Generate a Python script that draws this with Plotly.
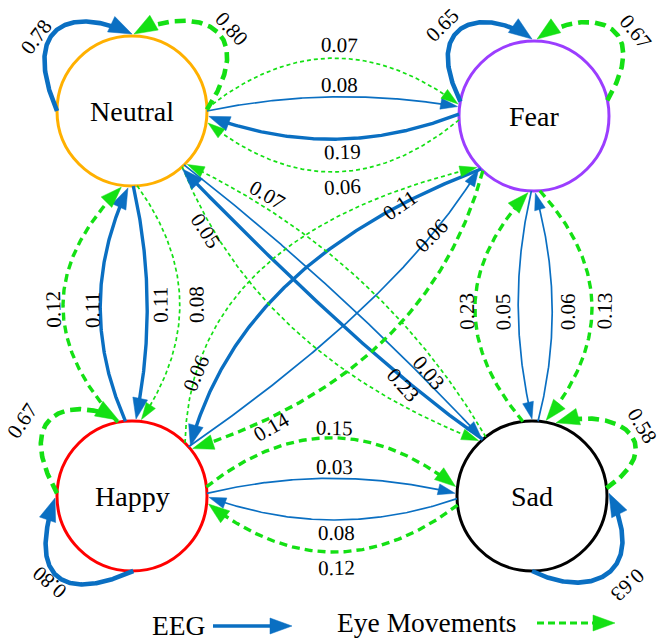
import math
import numpy as np
import plotly.graph_objects as go

# ---------------- data ----------------
STATES = ["Neutral", "Fear", "Happy", "Sad"]
# transition probabilities, row = from-state, column = to-state
EEG_PROB = [
    [0.78, 0.08, 0.11, 0.03],
    [0.19, 0.65, 0.11, 0.05],
    [0.11, 0.06, 0.80, 0.03],
    [0.23, 0.06, 0.08, 0.63],
]
EYE_PROB = [
    [0.80, 0.07, 0.08, 0.05],
    [0.06, 0.67, 0.14, 0.13],
    [0.12, 0.06, 0.67, 0.15],
    [0.07, 0.23, 0.12, 0.58],
]
MODALITIES = ["EEG", "Eye Movements"]
PROBS = {"EEG": EEG_PROB, "Eye Movements": EYE_PROB}

# ---------------- layout / style ----------------
W, H = 661, 641
SERIF = "Liberation Serif, Times New Roman, serif"
R_NODE, R_TIP = 75, 77
NODE_XY = {"Neutral": (132, 111), "Fear": (534, 116), "Happy": (132, 496), "Sad": (532, 496)}
NODE_COLOR = {"Neutral": "#FFB000", "Fear": "#9B3DFF", "Happy": "#FF0000", "Sad": "#000000"}
MOD_COLOR = {"EEG": "#0A6FC2", "Eye Movements": "#14E014"}
LABEL_SIZE, NODE_SIZE, LEGEND_SIZE = 21, 28, 27.5

# (mod, src, dst): start angle, end angle, bend, skew, label t, label offset, label rotation
EDGE_GEOM = {
    ("Eye Movements", "Neutral", "Fear"): (-2, 189, 96, 0, 0.53, 13, None),
    ("EEG", "Neutral", "Fear"): (0, 187, 24, 0, 0.53, 12, None),
    ("EEG", "Fear", "Neutral"): (181.5, 4, 48, 0, 0.47, 13, None),
    ("Eye Movements", "Fear", "Neutral"): (177, 9, 101, 0, 0.47, 15, None),
    ("Eye Movements", "Happy", "Neutral"): (-101, 98, 113, 0, 0.477, 10, None),
    ("EEG", "Happy", "Neutral"): (-95, 93, 53, 0, 0.477, 8, None),
    ("EEG", "Neutral", "Happy"): (89, -87, 25, 0, 0.51, 13, None),
    ("Eye Movements", "Neutral", "Happy"): (86, -83, 81, 0, 0.51, 17, None),
    ("Eye Movements", "Sad", "Fear"): (-97, 94.5, 101, 0, 0.479, 8, None),
    ("EEG", "Fear", "Sad"): (92, -90, -27, 0, 0.53, -15, None),
    ("EEG", "Sad", "Fear"): (-85.4, 89, -31, 0, 0.478, -16, None),
    ("Eye Movements", "Fear", "Sad"): (85.5, -79.4, 98, 0, 0.53, 13, None),
    ("Eye Movements", "Happy", "Sad"): (-7, 187, 98, 0, 0.515, 10, None),
    ("EEG", "Happy", "Sad"): (-2, 182, 30, 0, 0.515, 11, None),
    ("EEG", "Sad", "Happy"): (178, 1, 44, 0, 0.485, 13, None),
    ("Eye Movements", "Sad", "Happy"): (173, 6, 95, 0, 0.485, 16, None),
    ("Eye Movements", "Neutral", "Sad"): (48, 226, -87, -20, 0.17, -7, 57),
    ("EEG", "Neutral", "Sad"): (46, 229, 16, -7, 0.8, 7, 50),
    ("EEG", "Sad", "Neutral"): (229, 49, 18, -60, 0.3, 5, 48),
    ("Eye Movements", "Sad", "Neutral"): (232, 44, -62, -2, 0.8, -12, 30),
    ("Eye Movements", "Fear", "Happy"): (133, -38, 108, -22, 0.83, 9, -30),
    ("Eye Movements", "Happy", "Fear"): (-45, 138, 148, -54, 0.18, 0, -67),
    ("EEG", "Fear", "Happy"): (135, -40.6, -100, 37, 0.18, 0, -35),
    ("EEG", "Happy", "Fear"): (-41, 136, -40, 54, 0.75, 0, -45),
}

# (mod, node): start angle, end angle, ctrl1 (ang, dist), ctrl2 (ang, dist), label (ang, dist), label rotation
LOOP_GEOM = {
    ("EEG", "Neutral"): (180, -90, (-142.5, 141), (-120.3, 123), (-142.4, 121), -53),
    ("Eye Movements", "Neutral"): (-1, -88.5, (-34.4, 161), (-63.4, 118.5), (-39.4, 129), 48),
    ("EEG", "Fear"): (191, -91.5, (-139.9, 149), (-113.8, 121), (-135.3, 129), -45),
    ("Eye Movements", "Fear"): (-12, -87.7, (-38.4, 154.5), (-65.3, 122), (-39.5, 132), 51),
    ("Eye Movements", "Happy"): (182, -100, (-144.8, 149), (-119.4, 116), (-145.7, 133), -56),
    ("EEG", "Happy"): (89, 178.5, (120.8, 121), (140.2, 139), (134, 119.5), -139),
    ("Eye Movements", "Sad"): (-6, -71.8, (-20.3, 147), (-46, 126.6), (-32.5, 131), 59),
    ("EEG", "Sad"): (90, -2, (60.9, 119), (33.8, 142), (43, 130.5), 137),
}

# legend: text x, arrow x0, arrow x1, y
LEGEND_GEOM = {"EEG": (178, 213, 292, 626), "Eye Movements": (426, 537, 615, 623)}


def stroke(mod, v):
    if v >= 0.5:
        w = 4.6
    elif v >= 0.1:
        w = 3.4
    else:
        w = 1.7
    dash = "solid"
    if mod == "Eye Movements":
        dash = "11px,6px" if v >= 0.5 else ("8px,5px" if v >= 0.1 else "4px,3px")
    return w, dash


def head(v):
    if v >= 0.5:
        return 23, 8.5
    if v >= 0.1:
        return 21, 7.5
    return 17, 5.5


def polar(node, ang, rad):
    cx, cy = NODE_XY[node]
    a = math.radians(ang)
    return np.array([cx + rad * math.cos(a), cy + rad * math.sin(a)])


def bez(P, t):
    t = np.atleast_1d(np.asarray(t, float))[:, None]
    pts = [np.asarray(p, float) for p in P]
    while len(pts) > 1:
        pts = [(1 - t) * pts[i] + t * pts[i + 1] for i in range(len(pts) - 1)]
    return pts[0]


def bez_d(P, t):
    n = len(P) - 1
    D = [n * (np.asarray(P[i + 1], float) - np.asarray(P[i], float)) for i in range(n)]
    if len(D) == 1:
        return D[0]
    return bez(D, t)[0]


def norm_rot(a):
    while a > 85:
        a -= 180
    while a <= -95:
        a += 180
    return a


fig = go.Figure()
arrow_x = {m: [] for m in MODALITIES}
arrow_y = {m: [] for m in MODALITIES}
annotations = []


def draw(P, mod, w, dash, L, hw):
    pts = bez(P, np.linspace(0, 1, 200))
    tip = np.asarray(P[-1], float)
    u = tip - np.asarray(P[-2], float)
    u /= np.linalg.norm(u)
    dist = np.linalg.norm(pts - tip, axis=1)
    idx = np.where(dist > 0.6 * L)[0][-1]
    line = np.vstack([pts[: idx + 1], tip - u * 0.6 * L])
    fig.add_trace(go.Scatter(x=line[:, 0], y=line[:, 1], mode="lines",
                             line=dict(color=MOD_COLOR[mod], width=w, dash=dash),
                             hoverinfo="skip"))
    base = tip - u * L
    nrm = np.array([-u[1], u[0]])
    tri = [tip, base + nrm * hw, base - nrm * hw, tip]
    arrow_x[mod] += [p[0] for p in tri] + [None]
    arrow_y[mod] += [p[1] for p in tri] + [None]


def label(x, y, text, rot, size=LABEL_SIZE):
    annotations.append(dict(x=x, y=y, xref="x", yref="y", text=text, showarrow=False,
                            textangle=rot, xanchor="center", yanchor="middle",
                            font=dict(family=SERIF, size=size, color="black")))


# nodes
shapes = []
for s in STATES:
    cx, cy = NODE_XY[s]
    shapes.append(dict(type="circle", xref="x", yref="y", x0=cx - R_NODE, x1=cx + R_NODE,
                       y0=cy - R_NODE, y1=cy + R_NODE, line=dict(color=NODE_COLOR[s], width=3),
                       fillcolor="white", layer="below"))
    label(cx, cy, s, 0, size=NODE_SIZE)

# transitions
for mod in MODALITIES:
    M = PROBS[mod]
    for i, src in enumerate(STATES):
        for j, dst in enumerate(STATES):
            v = M[i][j]
            w, dash = stroke(mod, v)
            L, hw = head(v)
            txt = f"{v:.2f}"
            if i == j:
                sa, ea, c1, c2, lp, lrot = LOOP_GEOM[(mod, src)]
                P = [polar(src, sa, R_NODE), polar(src, *c1), polar(src, *c2), polar(src, ea, R_TIP)]
                draw(P, mod, w, dash, L, hw)
                lx, ly = polar(src, *lp)
                label(lx, ly, txt, lrot)
            else:
                sa, ea, b, sk, lt, lo, lrot = EDGE_GEOM[(mod, src, dst)]
                P0 = polar(src, sa, R_NODE)
                P2 = polar(dst, ea, R_TIP)
                d = (P2 - P0) / np.linalg.norm(P2 - P0)
                n = np.array([d[1], -d[0]])
                C = (P0 + P2) / 2 + n * b + d * sk
                P = [P0, C, P2]
                draw(P, mod, w, dash, L, hw)
                pt = bez(P, lt)[0]
                tg = bez_d(P, lt)
                tg = tg / np.linalg.norm(tg)
                nt = np.array([tg[1], -tg[0]])
                lx, ly = pt + nt * lo
                rot = lrot if lrot is not None else norm_rot(math.degrees(math.atan2(tg[1], tg[0])))
                label(lx, ly, txt, rot)

# legend
for mod in MODALITIES:
    tx, x0, x1, y = LEGEND_GEOM[mod]
    label(tx, y - 1, mod, 0, size=LEGEND_SIZE)
    if mod == "EEG":
        draw([np.array([x0, y]), np.array([x1, y])], mod, 3.4, "solid", 22, 8)
    else:
        draw([np.array([x0, y]), np.array([x1, y])], mod, 3.0, "7px,4px", 22, 8)

for mod in MODALITIES:
    fig.add_trace(go.Scatter(x=arrow_x[mod], y=arrow_y[mod], mode="lines", fill="toself",
                             fillcolor=MOD_COLOR[mod], line=dict(color=MOD_COLOR[mod], width=0.5),
                             hoverinfo="skip"))

fig.update_layout(width=W, height=H, autosize=False, margin=dict(l=0, r=0, t=0, b=0),
                  paper_bgcolor="white", plot_bgcolor="white", showlegend=False, hovermode=False,
                  xaxis=dict(range=[0, W], visible=False, fixedrange=True),
                  yaxis=dict(range=[H, 0], visible=False, fixedrange=True),
                  shapes=shapes, annotations=annotations)
fig.write_html("out.html", config={"displayModeBar": False},
               post_script="document.body.style.margin='0';document.body.style.overflow='hidden';")
